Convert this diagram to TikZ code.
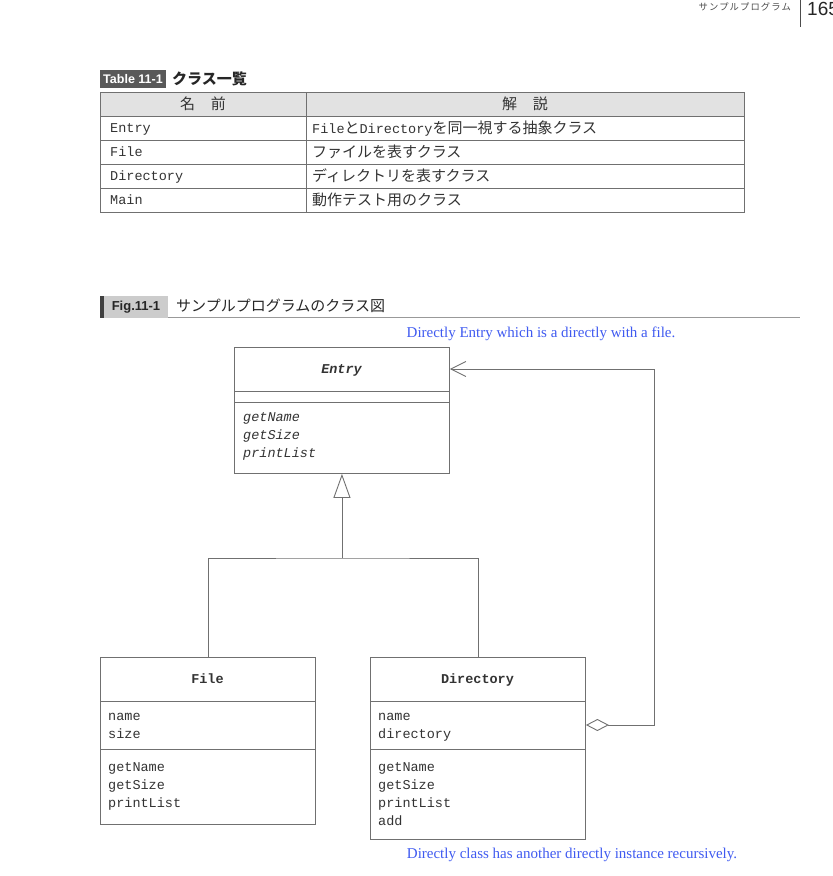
\documentclass[tikz,border=0pt]{standalone}
\usepackage{fontspec}
\setmainfont{Liberation Serif}
\setsansfont{Liberation Sans}
\setmonofont{Liberation Mono}
\newfontfamily\cjk{Noto Sans CJK JP}
\newfontfamily\cjkls[LetterSpace=12]{Noto Sans CJK JP}
\usetikzlibrary{arrows.meta}
\definecolor{ln}{HTML}{707070}
\definecolor{tx}{HTML}{333333}
\definecolor{bl}{HTML}{3F5AF0}
\definecolor{hdr}{HTML}{E2E2E2}
\newcommand\monof{\ttfamily\fontsize{13.5}{16}\selectfont}
\newcommand\tabmono{\ttfamily\fontsize{13.5}{16}\selectfont}
\newcommand\tabcjk{\cjk\fontsize{15}{16}\selectfont}
\tikzset{
  umlbox/.style={draw=ln, line width=0.9pt, minimum width=215pt, inner sep=0pt, anchor=north west},
  mtxt/.style={anchor=base west, inner sep=0pt, font=\monof, text=tx},
  ntxt/.style={anchor=base, inner sep=0pt, font=\monof\bfseries, text=tx},
  ttxt/.style={anchor=base west, inner sep=0pt, text=tx},
  conn/.style={draw=ln, line width=0.9pt},
  bluetxt/.style={inner sep=0pt, text=bl, font=\fontsize{15}{17}\selectfont},
}
\begin{document}
\begin{tikzpicture}[x=1pt,y=-1pt]
\useasboundingbox (0,0) rectangle (833,876);
\clip (0,0) rectangle (833,876);
% page header
\node[anchor=base east, inner sep=0pt, font=\cjkls\fontsize{9.3}{10}\selectfont, text=black!70] (hdrtxt) at (791,10) {サンプルプログラム};
\draw[line width=0.8pt, black!70] (800,0) -- (800,27);
\node[anchor=base west, inner sep=0pt, font=\sffamily\fontsize{19}{20}\selectfont, text=black!85] (pnum) at (807,15) {165};
% table label
\fill[black!65] (100,70) rectangle (166,88);
\node[inner sep=0pt, font=\sffamily\bfseries\fontsize{12.5}{14}\selectfont, text=white] (tlabel) at (133,79.5) {Table 11-1};
\node[anchor=west, inner sep=0pt, font=\cjk\bfseries\fontsize{15}{16}\selectfont, text=black!85] (ttitle) at (172,79) {クラス一覧};
% table
\fill[hdr] (100,92) rectangle (744,116);
\foreach \y in {116,140,164,188} \draw[ln, line width=0.8pt] (100,\y) -- (744,\y);
\draw[ln, line width=0.8pt] (100,92) rectangle (744,212);
\draw[ln, line width=0.8pt] (306,92) -- (306,212);
\node[inner sep=0pt, font=\tabcjk, text=tx] (h1) at (203,104) {名\hspace{16pt}前};
\node[inner sep=0pt, font=\tabcjk, text=tx] (h2) at (525,104) {解\hspace{16pt}説};
\node[ttxt, font=\tabmono] (r1a) at (110,132.5) {Entry};
\node[ttxt, font=\tabmono] (r2a) at (110,156.5) {File};
\node[ttxt, font=\tabmono] (r3a) at (110,180.5) {Directory};
\node[ttxt, font=\tabmono] (r4a) at (110,204.5) {Main};
\node[ttxt] (r1b) at (312,133) {\tabmono File\tabcjk と\tabmono Directory\tabcjk を同一視する抽象クラス};
\node[ttxt, font=\tabcjk] (r2b) at (312,133+24) {ファイルを表すクラス};
\node[ttxt, font=\tabcjk] (r3b) at (312,133+48) {ディレクトリを表すクラス};
\node[ttxt, font=\tabcjk] (r4b) at (312,133+72) {動作テスト用のクラス};
% figure title
\fill[black!75] (100,296) rectangle (104,318);
\fill[black!20] (104,296) rectangle (168,318);
\node[inner sep=0pt, font=\sffamily\bfseries\fontsize{13}{14}\selectfont, text=black!85] (flabel) at (136,307) {Fig.11-1};
\node[anchor=west, inner sep=0pt, font=\cjk\fontsize{15}{16}\selectfont, text=black!85] (ftitle) at (176,306) {サンプルプログラムのクラス図};
\draw[black!40, line width=1.3pt] (168,317.3) -- (800,317.3);
% blue notes
\node[bluetxt] (note1) at (541,334) {Directly Entry which is a directly with a file.};
\node[bluetxt] (note2) at (572,855) {Directly class has another directly instance recursively.};
% Entry class
\node[umlbox, minimum height=126pt] (entry) at (234,347) {};
\draw[ln, line width=0.9pt] ([yshift=-44pt]entry.north west) -- ([yshift=-44pt]entry.north east);
\draw[ln, line width=0.9pt] ([yshift=-55pt]entry.north west) -- ([yshift=-55pt]entry.north east);
\node[ntxt, font=\monof\bfseries\itshape] (entryname) at (341.5,373.5) {Entry};
\node[mtxt, font=\monof\itshape] (em1) at (243,421.5) {getName};
\node[mtxt, font=\monof\itshape] (em2) at (243,439.5) {getSize};
\node[mtxt, font=\monof\itshape] (em3) at (243,457.5) {printList};
% File class
\node[umlbox, minimum height=167pt] (file) at (100,657) {};
\draw[ln, line width=0.9pt] ([yshift=-44pt]file.north west) -- ([yshift=-44pt]file.north east);
\draw[ln, line width=0.9pt] ([yshift=-92pt]file.north west) -- ([yshift=-92pt]file.north east);
\node[ntxt] (filename) at (207.5,683.5) {File};
\node[mtxt] (fa1) at (108,720.5) {name};
\node[mtxt] (fa2) at (108,738.5) {size};
\node[mtxt] (fm1) at (108,771.5) {getName};
\node[mtxt] (fm2) at (108,789.5) {getSize};
\node[mtxt] (fm3) at (108,807.5) {printList};
% Directory class
\node[umlbox, minimum height=182pt] (dir) at (370,657) {};
\draw[ln, line width=0.9pt] ([yshift=-44pt]dir.north west) -- ([yshift=-44pt]dir.north east);
\draw[ln, line width=0.9pt] ([yshift=-92pt]dir.north west) -- ([yshift=-92pt]dir.north east);
\node[ntxt] (dirname) at (477.5,683.5) {Directory};
\node[mtxt] (da1) at (378,720.5) {name};
\node[mtxt] (da2) at (378,738.5) {directory};
\node[mtxt] (dm1) at (378,771.5) {getName};
\node[mtxt] (dm2) at (378,789.5) {getSize};
\node[mtxt] (dm3) at (378,807.5) {printList};
\node[mtxt] (dm4) at (378,825.5) {add};
% generalization
\coordinate (junc) at (entry.south |- 0,558);
\draw[conn] (file.north) |- (junc) -| (dir.north);
\draw[conn, -{Triangle[open, length=24pt, width=17pt, fill=white]}] (junc) -- (entry.south);
% aggregation
\coordinate (aggstart) at (dir.east |- 0,725);
\coordinate (aggend) at (entry.east |- 0,369);
\coordinate (corner1) at (654,725);
\coordinate (corner2) at (654,369);
\draw[conn, {Diamond[open, length=23pt, width=12pt, fill=white]}-{Straight Barb[length=15pt, width=15pt, line width=0.9pt]}] (aggstart) -- (corner1) -- (corner2) -- (aggend);
\end{tikzpicture}
\end{document}
